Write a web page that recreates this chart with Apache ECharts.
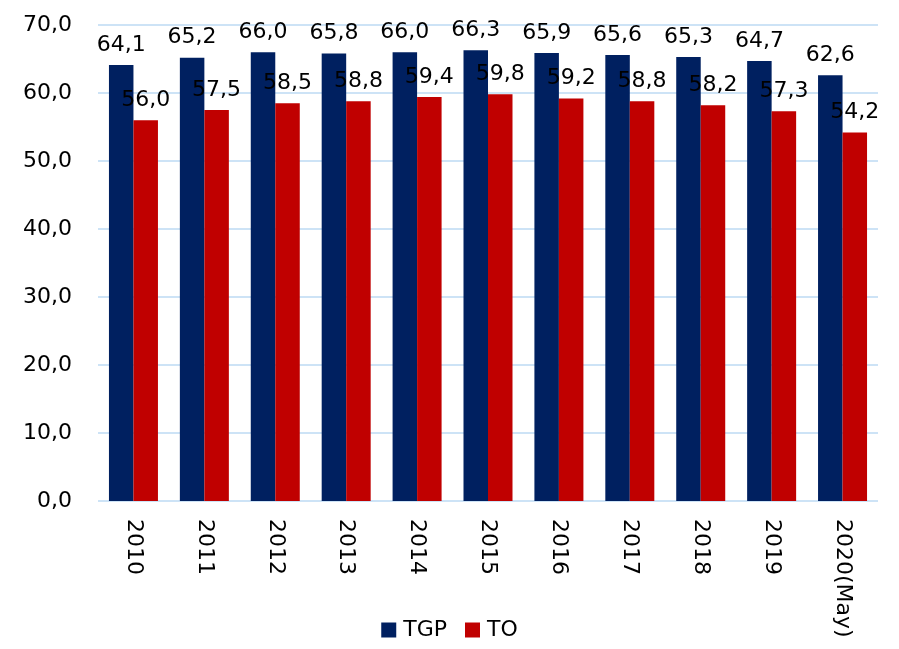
<!DOCTYPE html>
<html><head><meta charset="utf-8">
<script src="https://cdn.jsdelivr.net/npm/echarts@6/dist/echarts.min.js"></script>
<style>html,body{margin:0;padding:0;background:#fff}#c{width:899px;height:649px}</style>
</head><body><div id="c"></div>
<script>
var categories = ['2010','2011','2012','2013','2014','2015','2016','2017','2018','2019','2020(May)'];
var tgp = [64.1,65.2,66.0,65.8,66.0,66.3,65.9,65.6,65.3,64.7,62.6];
var to = [56.0,57.5,58.5,58.8,59.4,59.8,59.2,58.8,58.2,57.3,54.2];
var yTicks = {min:0, max:70, interval:10};
var FONT = 'DejaVu Sans';
var FS = 22;
function fmt(v){return v.toFixed(1).replace('.',',');}
var chart = echarts.init(document.getElementById('c'));
chart.setOption({
  animation:false,
  textStyle:{fontFamily:FONT},
  grid:{left:98,right:21,top:25,bottom:148},
  legend:{bottom:3,left:'center',itemWidth:15,itemHeight:15,itemGap:18,icon:'rect',
    textStyle:{fontFamily:FONT,fontSize:FS,color:'#000',padding:[0,0,0,2]},data:['TGP','TO']},
  xAxis:{type:'category',data:categories,
    axisLine:{show:false},axisTick:{show:false},
    axisLabel:{rotate:-90,fontFamily:FONT,fontSize:FS,color:'#000',margin:18}},
  yAxis:{type:'value',min:yTicks.min,max:yTicks.max,interval:yTicks.interval,
    axisLine:{show:false},axisTick:{show:false},
    splitLine:{lineStyle:{color:'#cde3f6',width:2}},
    axisLabel:{fontFamily:FONT,fontSize:FS,color:'#000',margin:26,formatter:function(v){return fmt(v);}}},
  series:[
    {name:'TGP',type:'bar',data:tgp,barWidth:24.5,barGap:'0%',itemStyle:{color:'#002060'},
      label:{show:true,position:'top',distance:9,fontFamily:FONT,fontSize:FS,color:'#000',formatter:function(p){return fmt(p.value);}}},
    {name:'TO',type:'bar',data:to,barWidth:24.5,barGap:'0%',itemStyle:{color:'#c00000'},
      label:{show:true,position:'top',distance:9,fontFamily:FONT,fontSize:FS,color:'#000',formatter:function(p){return fmt(p.value);}}}
  ]
});
</script></body></html>
